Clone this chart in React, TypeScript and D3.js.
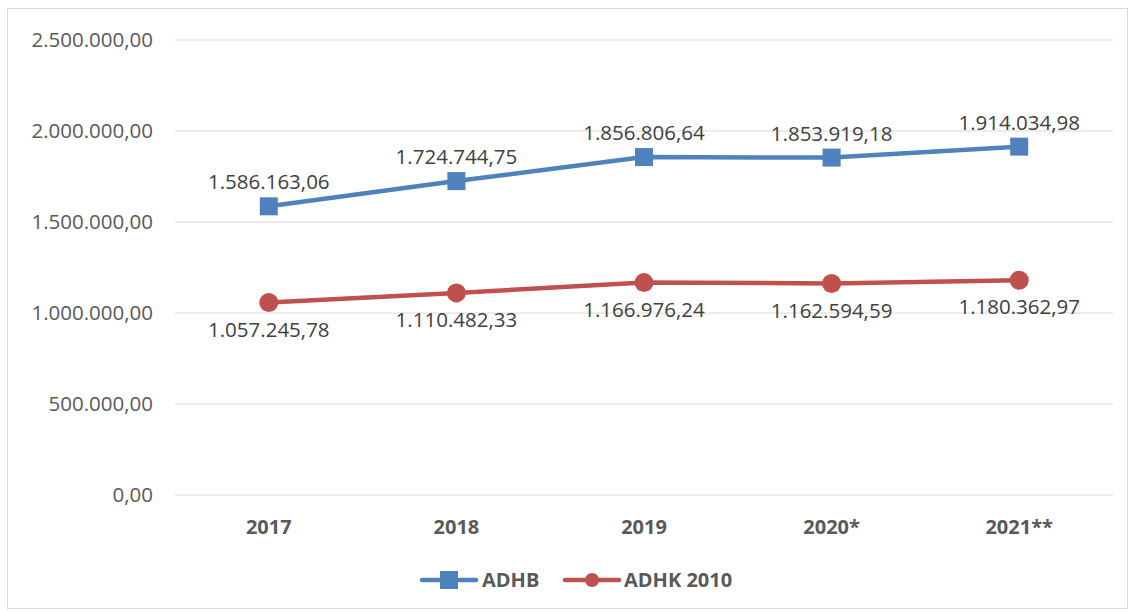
import React from 'react';
import * as d3 from 'd3';

const years = ['2017', '2018', '2019', '2020*', '2021**'];
const adhb = [1586163.06, 1724744.75, 1856806.64, 1853919.18, 1914034.98];
const adhk = [1057245.78, 1110482.33, 1166976.24, 1162594.59, 1180362.97];
const yTicks = [0, 500000, 1000000, 1500000, 2000000, 2500000];

const fmt = (v: number) => {
  const [i, dec] = v.toFixed(2).split('.');
  return i.replace(/\B(?=(\d{3})+(?!\d))/g, '.') + ',' + dec;
};

export default function App() {
  const width = 1130;
  const height = 612;
  const left = 175;
  const right = 1113;
  const top = 40;
  const bottom = 495;
  const font = 'Open Sans, Noto Sans, sans-serif';
  const fs = 20.5;
  const fsb = 20;

  const x = d3.scalePoint<string>().domain(years).range([left, right]).padding(0.5);
  const y = d3.scaleLinear().domain([0, 2500000]).range([bottom, top]);
  const line = d3
    .line<number>()
    .x((_, i) => x(years[i]) as number)
    .y((d) => y(d));

  const blue = '#4f81bd';
  const red = '#c0504d';

  return (
    <svg width={width} height={height} style={{ position: 'absolute', left: 0, top: 0 }}>
      <rect x={7.5} y={8.5} width={1120} height={600} fill="#fff" stroke="#d9d9d9" />
      {yTicks.map((t) => (
        <g key={t}>
          <line x1={left} x2={right} y1={y(t)} y2={y(t)} stroke="#d9d9d9" strokeWidth={1} />
          <text x={153} y={y(t)} dy="0.35em" textAnchor="end" fontFamily={font} fontSize={fs} fill="#595959">
            {fmt(t)}
          </text>
        </g>
      ))}
      {years.map((yr) => (
        <text key={yr} x={x(yr)} y={527} dy="0.35em" textAnchor="middle" fontFamily={font} fontWeight="bold" fontSize={fsb} fill="#595959">
          {yr}
        </text>
      ))}
      <path d={line(adhb) || ''} fill="none" stroke={blue} strokeWidth={4.5} strokeLinejoin="round" />
      <path d={line(adhk) || ''} fill="none" stroke={red} strokeWidth={4.5} strokeLinejoin="round" />
      {adhb.map((v, i) => (
        <g key={'b' + i}>
          <rect x={(x(years[i]) as number) - 9} y={y(v) - 9} width={18} height={18} fill={blue} />
          <text x={x(years[i])} y={y(v) - 24} dy="0.35em" textAnchor="middle" fontFamily={font} fontSize={fs} fill="#404040">
            {fmt(v)}
          </text>
        </g>
      ))}
      {adhk.map((v, i) => (
        <g key={'k' + i}>
          <circle cx={x(years[i])} cy={y(v)} r={9.5} fill={red} />
          <text x={x(years[i])} y={y(v) + 27} dy="0.35em" textAnchor="middle" fontFamily={font} fontSize={fs} fill="#404040">
            {fmt(v)}
          </text>
        </g>
      ))}
      <g>
        <line x1={422} x2={476} y1={580} y2={580} stroke={blue} strokeWidth={4.5} strokeLinecap="round" />
        <rect x={440} y={571} width={18} height={18} fill={blue} />
        <text x={482} y={580} dy="0.35em" fontFamily={font} fontWeight="bold" fontSize={fsb} fill="#595959">
          ADHB
        </text>
        <line x1={565} x2={619} y1={580} y2={580} stroke={red} strokeWidth={4.5} strokeLinecap="round" />
        <circle cx={592} cy={580} r={7} fill={red} />
        <text x={624} y={580} dy="0.35em" fontFamily={font} fontWeight="bold" fontSize={fsb} fill="#595959">
          ADHK 2010
        </text>
      </g>
    </svg>
  );
}
